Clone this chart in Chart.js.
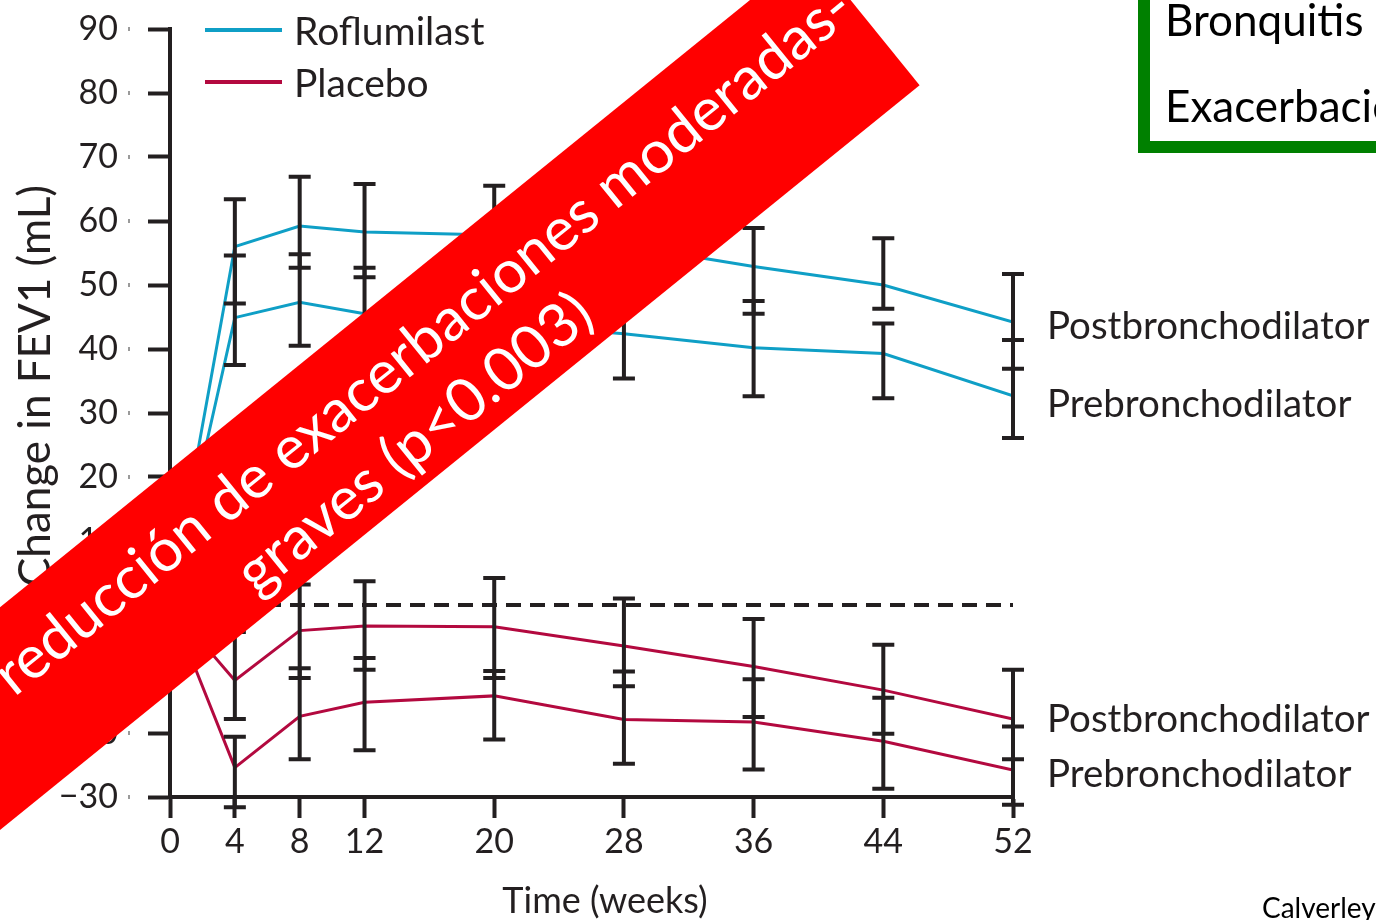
<!DOCTYPE html>
<html>
<head>
<meta charset="utf-8">
<script src="https://cdn.jsdelivr.net/npm/chart.js@4/dist/chart.umd.min.js"></script>
<style>
  html, body { margin: 0; padding: 0; background: #fff; overflow: hidden; }
  #wrap { width: 1376px; height: 920px; position: relative; }
</style>
</head>
<body>
<div id="wrap"><canvas id="fev1" width="1376" height="920"></canvas></div>
<script>
// Study weeks at which FEV1 was measured
const weeks = [0, 4, 8, 12, 20, 28, 36, 44, 52];
const weekTicks = [0, 4, 8, 12, 20, 28, 36, 44, 52];

// Mean change in FEV1 (mL)
const roflumilastPost = [0, 56.0, 59.2, 58.3, 57.8, 56.2, 52.9, 50.0, 44.2];
const roflumilastPre  = [0, 44.9, 47.3, 45.5, 44.0, 42.4, 40.2, 39.3, 32.7];
const placeboPost     = [0, -11.8, -4.0, -3.3, -3.4, -6.4, -9.6, -13.3, -17.8];
const placeboPre      = [0, -25.4, -17.4, -15.2, -14.2, -17.9, -18.3, -21.3, -25.8];

// Error bar extents [low, high] (mL); none at baseline
const roflumilastPostBars = [null, [47.1, 63.4], [52.7, 66.9], [51.2, 65.8], [50.4, 65.5], [49.0, 63.0], [45.5, 58.9], [46.3, 57.3], [36.9, 51.7]];
const roflumilastPreBars  = [null, [37.5, 54.6], [40.5, 54.8], [38.0, 52.7], [37.0, 50.6], [35.4, 49.4], [32.6, 47.5], [32.3, 44.0], [26.1, 41.4]];
const placeboPostBars     = [null, [-17.8, -4.2], [-11.4, 3.2], [-10.1, 3.7], [-11.4, 4.2], [-12.7, 1.0], [-17.5, -2.2], [-20.1, -6.2], [-24.1, -10.1]];
const placeboPreBars      = [null, [-31.6, -20.6], [-24.1, -9.9], [-22.7, -8.3], [-21.0, -10.3], [-24.8, -10.4], [-25.7, -11.6], [-28.7, -14.5], [-31.2, -19.0]];

const treatments = ['Roflumilast', 'Placebo'];
const measureLabels = ['Postbronchodilator', 'Prebronchodilator'];

const INK = '#231f20';
const BLUE = '#0f9fc6';
const CRIMSON = '#b3093f';
const FONT = 'Lato, "Open Sans", sans-serif';

function series(values) {
  return values.map((v, i) => ({ x: weeks[i], y: v }));
}

// Dashed reference line at zero change
const zeroLine = {
  id: 'zeroLine',
  beforeDatasetsDraw(chart) {
    const { ctx, scales: { x, y } } = chart;
    const py = y.getPixelForValue(0);
    ctx.save();
    ctx.strokeStyle = INK;
    ctx.lineWidth = 4;
    ctx.setLineDash([15, 9]);
    ctx.beginPath();
    ctx.moveTo(x.getPixelForValue(0), py);
    ctx.lineTo(x.getPixelForValue(52), py);
    ctx.stroke();
    ctx.restore();
  }
};

// Black error bars with caps, over the lines
const errorBars = {
  id: 'errorBars',
  afterDatasetsDraw(chart) {
    const { ctx, scales: { x, y } } = chart;
    ctx.save();
    ctx.strokeStyle = INK;
    ctx.lineWidth = 4;
    chart.data.datasets.forEach(ds => {
      ds.bars.forEach((r, i) => {
        if (!r) return;
        const px = x.getPixelForValue(weeks[i]);
        const lo = y.getPixelForValue(r[0]);
        const hi = y.getPixelForValue(r[1]);
        ctx.beginPath();
        ctx.moveTo(px, lo); ctx.lineTo(px, hi);
        ctx.moveTo(px - 11, lo); ctx.lineTo(px + 11, lo);
        ctx.moveTo(px - 11, hi); ctx.lineTo(px + 11, hi);
        ctx.stroke();
      });
    });
    ctx.restore();
  }
};

// Legend, end-of-line labels, axis titles
const annotations = {
  id: 'annotations',
  afterDraw(chart) {
    const { ctx, scales: { y } } = chart;
    ctx.save();
    // faint dot between each y tick label and its tick mark
    ctx.fillStyle = '#9a9a9a';
    y.ticks.forEach(t => {
      const py = y.getPixelForValue(t.value);
      ctx.fillRect(128, py - 2, 2, 4);
    });
    // legend
    const legendRows = [[treatments[0], BLUE, 30], [treatments[1], CRIMSON, 82]];
    legendRows.forEach(([label, color, py]) => {
      ctx.strokeStyle = color;
      ctx.lineWidth = 4;
      ctx.beginPath();
      ctx.moveTo(205, py); ctx.lineTo(282, py);
      ctx.stroke();
      ctx.fillStyle = INK;
      ctx.font = '39px ' + FONT;
      ctx.textAlign = 'left';
      ctx.textBaseline = 'middle';
      ctx.fillText(label, 294, py + 2);
    });
    // labels beside the week-52 values
    ctx.font = '38.5px ' + FONT;
    ctx.fillStyle = INK;
    ctx.textAlign = 'left';
    ctx.textBaseline = 'middle';
    [[measureLabels[0], 327], [measureLabels[1], 405], [measureLabels[0], 720], [measureLabels[1], 775]]
      .forEach(([t, py]) => ctx.fillText(t, 1047, py));
    // axis titles
    ctx.font = '36px ' + FONT;
    ctx.textAlign = 'center';
    ctx.textBaseline = 'alphabetic';
    ctx.fillText('Time (weeks)', 605, 913);
    ctx.save();
    ctx.translate(50, 386);
    ctx.rotate(-Math.PI / 2);
    ctx.font = '44px ' + FONT;
    ctx.fillText('Change in FEV1 (mL)', 0, 0);
    ctx.restore();
    ctx.restore();
  }
};

// Red diagonal banner, green note box, source line
const overlay = {
  id: 'overlay',
  afterDraw(chart) {
    const { ctx } = chart;
    const theta = 39 * Math.PI / 180;
    ctx.save();
    ctx.rotate(-theta);
    ctx.fillStyle = '#ff0000';
    ctx.fillRect(-2000, 472, 2661, 173);
    ctx.fillStyle = '#ffffff';
    ctx.font = '60px ' + FONT;
    ctx.textAlign = 'left';
    ctx.textBaseline = 'alphabetic';
    ctx.fillText('reducción de exacerbaciones moderadas-', -428, 551);
    ctx.fillText('graves (p<0.003)', -176, 625);
    ctx.restore();

    ctx.save();
    ctx.fillStyle = '#ffffff';
    ctx.fillRect(1144, -20, 400, 167);
    ctx.strokeStyle = '#008000';
    ctx.lineWidth = 12;
    ctx.strokeRect(1144, -20, 400, 167);
    ctx.fillStyle = '#000000';
    ctx.font = '44px ' + FONT;
    ctx.textAlign = 'left';
    ctx.textBaseline = 'alphabetic';
    ctx.fillText('Bronquitis crónica', 1165, 36);
    ctx.fillText('Exacerbaciones previas', 1165, 122);
    ctx.font = '28px ' + FONT;
    ctx.fillText('Calverley PMA, et al. Lancet 2009', 1262, 918);
    ctx.restore();
  }
};

new Chart(document.getElementById('fev1'), {
  type: 'line',
  data: {
    datasets: [
      { label: treatments[0] + ' ' + measureLabels[0], data: series(roflumilastPost), bars: roflumilastPostBars, borderColor: BLUE },
      { label: treatments[0] + ' ' + measureLabels[1], data: series(roflumilastPre), bars: roflumilastPreBars, borderColor: BLUE },
      { label: treatments[1] + ' ' + measureLabels[0], data: series(placeboPost), bars: placeboPostBars, borderColor: CRIMSON },
      { label: treatments[1] + ' ' + measureLabels[1], data: series(placeboPre), bars: placeboPreBars, borderColor: CRIMSON }
    ].map(d => Object.assign(d, { borderWidth: 3, pointRadius: 0, tension: 0, fill: false }))
  },
  options: {
    responsive: false,
    animation: false,
    devicePixelRatio: 1,
    layout: { padding: { top: 29, right: 363, left: 0, bottom: 0 } },
    plugins: { legend: { display: false }, tooltip: { enabled: false } },
    scales: {
      x: {
        type: 'linear', min: 0, max: 52,
        afterBuildTicks: s => { s.ticks = weekTicks.map(v => ({ value: v })); },
        afterFit: s => { s.height = 123; s.paddingLeft = 0; s.paddingRight = 0; },
        grid: { drawOnChartArea: false, drawTicks: true, tickLength: 21, tickWidth: 4, tickColor: INK },
        border: { display: true, width: 4, color: INK },
        ticks: { font: { family: FONT, size: 34 }, color: INK, padding: 4, maxRotation: 0, autoSkip: false }
      },
      y: {
        min: -30, max: 90,
        afterFit: s => { s.width = 170; s.paddingTop = 0; s.paddingBottom = 0; },
        grid: { drawOnChartArea: false, drawTicks: true, tickLength: 22, tickWidth: 4, tickColor: INK },
        border: { display: true, width: 4, color: INK },
        ticks: {
          stepSize: 10, font: { family: FONT, size: 34 }, color: INK, padding: 30,
          callback: v => v < 0 ? '\u2212' + Math.abs(v) : String(v)
        }
      }
    }
  },
  plugins: [zeroLine, errorBars, annotations, overlay]
});
</script>
</body>
</html>
